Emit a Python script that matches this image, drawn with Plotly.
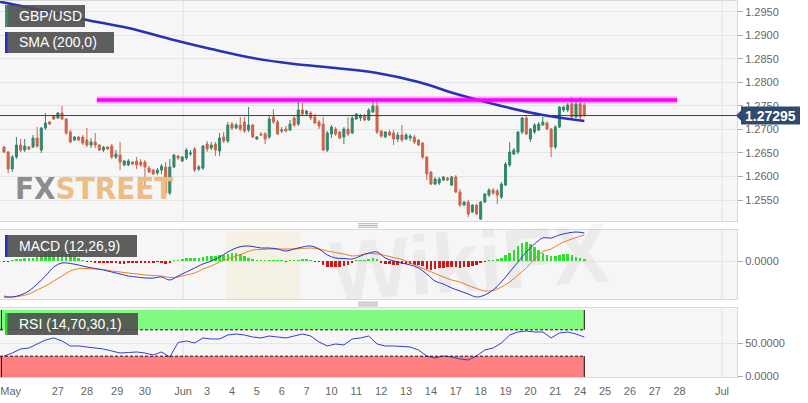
import plotly.graph_objects as go

# ---------------- DATA ----------------
open_ = [1.26626,1.26520,1.26159,1.26414,1.26669,1.26562,1.26626,1.26626,1.26817,1.26562,
1.27030,1.27158,1.27285,1.27243,1.27349,1.27221,1.26945,1.26775,1.26839,1.26839,
1.26775,1.26669,1.26732,1.26669,1.26562,1.26626,1.26647,1.26414,1.26456,1.26244,
1.26244,1.26307,1.26329,1.26307,1.26307,1.26180,1.26137,1.26074,1.26137,1.26201,
1.25649,1.26201,1.26435,1.26329,1.26392,1.26477,1.26584,1.26159,1.26180,1.26690,
1.26605,1.26690,1.26541,1.26839,1.26754,1.27115,1.27030,1.27094,1.27158,1.26987,
1.27094,1.26796,1.26902,1.26902,1.26839,1.27264,1.27158,1.26966,1.27009,1.26987,
1.27243,1.27115,1.27413,1.27328,1.27349,1.27264,1.27158,1.27115,1.26562,1.26902,
1.27009,1.26945,1.26839,1.27009,1.26924,1.27221,1.27243,1.27285,1.27200,1.27370,
1.27498,1.26966,1.26839,1.26945,1.26924,1.26796,1.26881,1.26796,1.26817,1.26839,
1.26775,1.26711,1.26414,1.26095,1.25840,1.25861,1.25925,1.25967,1.25819,1.25989,
1.25670,1.25394,1.25458,1.25245,1.25394,1.25096,1.25458,1.25606,1.25713,1.25691,
1.25564,1.25819,1.26244,1.26477,1.26520,1.26945,1.27243,1.26796,1.26945,1.26987,
1.27094,1.27136,1.27009,1.26626,1.27051,1.27413,1.27413,1.27540,1.27264,1.27540,
1.27519]

high = [1.26647,1.26541,1.26456,1.26839,1.26796,1.26796,1.26647,1.26881,1.27051,1.27051,
1.27349,1.27179,1.27306,1.27370,1.27498,1.27243,1.26987,1.26860,1.26860,1.26881,
1.27030,1.26817,1.26924,1.26690,1.26647,1.26647,1.26690,1.26562,1.26732,1.26350,
1.26371,1.26329,1.26414,1.26371,1.26350,1.26222,1.26159,1.26180,1.26265,1.26307,
1.26371,1.26477,1.26456,1.26435,1.26605,1.26562,1.26626,1.26244,1.26669,1.26754,
1.26732,1.26732,1.26924,1.26945,1.27158,1.27158,1.27136,1.27264,1.27264,1.27476,
1.27115,1.26860,1.26945,1.26945,1.27285,1.27434,1.27200,1.27051,1.27073,1.27200,
1.27285,1.27583,1.27561,1.27413,1.27391,1.27328,1.27200,1.27264,1.26966,1.27094,
1.27051,1.26966,1.27051,1.27264,1.27306,1.27349,1.27328,1.27328,1.27455,1.27604,
1.27604,1.26987,1.26966,1.26987,1.26987,1.26945,1.27094,1.26924,1.26902,1.26881,
1.26796,1.26732,1.26435,1.26116,1.25989,1.25989,1.26010,1.25989,1.26010,1.26031,
1.25734,1.25479,1.25500,1.25415,1.25415,1.25479,1.25649,1.25755,1.25755,1.25734,
1.25882,1.26307,1.26732,1.26605,1.26966,1.27264,1.27285,1.27030,1.27136,1.27158,
1.27264,1.27179,1.27030,1.27094,1.27498,1.27498,1.27561,1.27689,1.27604,1.27689,
1.27561]

low = [1.26499,1.26074,1.26095,1.26371,1.26520,1.26520,1.26562,1.26605,1.26605,1.26499,
1.26987,1.27094,1.27200,1.27221,1.27200,1.26881,1.26711,1.26754,1.26754,1.26669,
1.26626,1.26605,1.26605,1.26541,1.26520,1.26562,1.26371,1.26371,1.26137,1.26222,
1.26222,1.26244,1.26159,1.26201,1.25819,1.26074,1.26031,1.26031,1.26052,1.25628,
1.25606,1.26180,1.26350,1.26307,1.26350,1.26435,1.26095,1.26116,1.26137,1.26520,
1.26562,1.26435,1.26435,1.26711,1.26711,1.26987,1.27009,1.26966,1.26924,1.26945,
1.26817,1.26775,1.26860,1.26690,1.26796,1.27115,1.26881,1.26924,1.26945,1.26966,
1.27051,1.27073,1.27285,1.27306,1.27200,1.27115,1.27009,1.26541,1.26520,1.26817,
1.26860,1.26796,1.26690,1.26860,1.26902,1.27200,1.27179,1.27179,1.27179,1.27349,
1.26902,1.26817,1.26817,1.26860,1.26669,1.26732,1.26732,1.26775,1.26754,1.26690,
1.26647,1.26371,1.25925,1.25819,1.25819,1.25819,1.25904,1.25904,1.25797,1.25649,
1.25351,1.25373,1.25139,1.25224,1.25181,1.25075,1.25436,1.25564,1.25606,1.25415,
1.25521,1.25797,1.26201,1.26456,1.26477,1.26902,1.26881,1.26732,1.26902,1.26966,
1.27073,1.26987,1.26414,1.26584,1.27030,1.27370,1.27370,1.27243,1.27243,1.27221,
1.27264]

close = [1.26520,1.26159,1.26414,1.26669,1.26562,1.26647,1.26584,1.26817,1.26647,1.27030,
1.27136,1.27115,1.27221,1.27349,1.27221,1.26924,1.26732,1.26839,1.26775,1.26711,
1.26669,1.26732,1.26669,1.26562,1.26626,1.26584,1.26414,1.26477,1.26307,1.26329,
1.26329,1.26265,1.26244,1.26244,1.26201,1.26095,1.26052,1.26137,1.26222,1.25649,
1.26201,1.26456,1.26392,1.26414,1.26562,1.26499,1.26137,1.26201,1.26647,1.26584,
1.26669,1.26562,1.26817,1.26754,1.27094,1.27030,1.27094,1.27009,1.26966,1.27094,
1.26839,1.26839,1.26881,1.26796,1.27221,1.27158,1.26902,1.26987,1.26966,1.27115,
1.27094,1.27413,1.27328,1.27391,1.27243,1.27136,1.27073,1.26562,1.26924,1.27051,
1.26902,1.26817,1.27009,1.26902,1.27243,1.27328,1.27285,1.27200,1.27413,1.27498,
1.26945,1.26860,1.26945,1.26881,1.26796,1.26881,1.26775,1.26881,1.26860,1.26732,
1.26669,1.26414,1.26052,1.25840,1.25946,1.25946,1.25989,1.25925,1.25989,1.25670,
1.25394,1.25458,1.25203,1.25394,1.25203,1.25458,1.25628,1.25713,1.25649,1.25606,
1.25840,1.26265,1.26520,1.26562,1.26945,1.27243,1.26902,1.27009,1.27094,1.27115,
1.27158,1.27009,1.26626,1.27051,1.27476,1.27476,1.27519,1.27264,1.27540,1.27264,
1.27295]

# 200-period SMA, sampled every 10 candles (first value: the candle just off the left edge)
sma_idx = [-1, 0, 10, 20, 30, 40, 50, 60, 70, 80, 90, 100, 110, 120, 130, 140]
sma = [1.29717, 1.29696, 1.29515, 1.29324, 1.29154, 1.28921, 1.28708, 1.28517, 1.28390,
       1.28305, 1.28199, 1.28007, 1.27731, 1.27498, 1.27306, 1.27179]

# horizontal resistance drawn on the chart
resistance = 1.27625
resistance_from = 22.4
resistance_to = 162.4

# MACD (12,26,9) histogram, one per candle
macd_hist = [-0.00005,-0.00005,0.00005,0.0001,0.0001,0.00015,0.00015,0.00015,0.0002,0.0003,
0.0004,0.00045,0.0005,0.00055,0.0005,0.00045,0.00035,0.00025,0.00015,0.00005,
-0.00005,-0.00005,-0.0001,-0.0001,-0.0001,-0.0001,-0.0001,-0.0001,-0.00015,-0.00015,
-0.0001,-0.0001,-0.0001,-0.0001,-0.0001,-0.0001,-0.0001,-0.00005,-0.0001,-0.00015,
-0.0001,0.00002,0.00005,0.0001,0.00015,0.00015,0.00015,0.00015,0.0002,0.00025,
0.00025,0.00025,0.0003,0.0003,0.00035,0.0004,0.0004,0.00035,0.00025,0.00015,
0.0001,0.00005,0.00005,0.00002,0.00005,0.00005,0.00002,0.00002,-0.00002,0.00005,
0.00005,0.00005,0.0001,0.0001,0.00005,-0.00002,-0.00005,-0.0002,-0.0003,-0.0003,
-0.0003,-0.0003,-0.00025,-0.0002,-0.0001,0.00002,0.00005,0.00005,0.0001,0.00015,
0.0001,-0.0001,-0.00015,-0.00015,-0.0002,-0.0002,-0.00015,-0.00015,-0.00015,-0.0002,
-0.0002,-0.00025,-0.0004,-0.00045,-0.0004,-0.00035,-0.00035,-0.0003,-0.0003,-0.0003,
-0.00035,-0.0003,-0.0003,-0.00025,-0.0002,-0.0001,-0.00005,0.00005,0.00005,0.0001,
0.00015,0.0003,0.0004,0.00055,0.00075,0.0009,0.00095,0.00085,0.0007,0.00055,
0.0004,0.0003,0.00025,0.00025,0.0003,0.00035,0.00035,0.0003,0.0002,0.00015,
0.0001]

# MACD line, signal and RSI sampled every 2 candles
ind_idx = list(range(0, 141, 2))
macd_line = [-0.0018,-0.0018,-0.0017,-0.0015,-0.00115,-0.00075,-0.0003,-0.0001,-0.000125,-0.0002,
-0.0003,-0.000375,-0.00045,-0.00055,-0.00065,-0.00075,-0.0008,-0.00085,-0.00085,-0.0008,
-0.00095,-0.00075,-0.00055,-0.00035,-0.00015,0.0,0.0002,0.00045,0.00065,0.00075,
0.000725,0.00065,0.00065,0.0006,0.0005,0.0006,0.0007,0.00075,0.0006,0.0003,
0.00015,0.000125,0.0001,0.00025,0.0004,0.00045,0.00015,0.0,-0.0001,-0.0002,
-0.00035,-0.00065,-0.001,-0.00115,-0.00135,-0.0015,-0.00165,-0.0018,-0.0017,-0.00145,
-0.00105,-0.00055,-0.00005,0.00045,0.00085,0.00115,0.00115,0.0013,0.0014,0.00145,
0.0014]
macd_signal = [-0.00175,-0.0018,-0.00175,-0.00165,-0.00145,-0.00125,-0.001,-0.00075,-0.0005,-0.000375,
-0.000375,-0.0004,-0.000425,-0.0005,-0.00055,-0.0006,-0.00065,-0.0007,-0.000725,-0.00075,
-0.000825,-0.0008,-0.0007,-0.0006,-0.0004,-0.00025,-0.00005,0.0001,0.00025,0.0004,
0.00055,0.000575,0.0006,0.0006,0.0006,0.0006,0.000625,0.00065,0.0006,0.0005,
0.000425,0.00035,0.00025,0.0003,0.000375,0.00035,0.000275,0.000175,0.000075,-0.0001,
-0.000275,-0.00045,-0.000625,-0.0008,-0.00095,-0.00105,-0.001225,-0.001375,-0.0015,-0.001475,
-0.0013,-0.00105,-0.0007,-0.00035,0.0001,0.000475,0.0006,0.00085,0.001025,0.001175,
0.0013]
rsi = [30.3,34.8,40.9,42.4,48.5,54.5,57.6,53.0,45.5,45.5,
43.9,42.4,40.9,37.9,34.8,35.6,36.4,34.8,31.8,36.4,
28.8,50.8,53.0,50.0,57.6,56.1,56.1,62.1,63.6,62.1,
59.1,57.6,60.6,59.1,57.6,60.6,63.6,60.6,51.5,45.5,
48.5,47.0,56.1,57.6,60.6,48.5,45.5,45.5,44.7,43.9,
39.4,30.3,27.3,30.3,28.8,25.8,24.2,30.3,39.4,42.4,
50.0,62.1,66.7,68.2,66.7,66.7,57.6,65.2,66.7,63.6,
59.1]
rsi_upper, rsi_lower = 70, 30

# x-axis tick labels and the candle index at which each sits
tick_labels = ['May','27','28','29','30','Jun','3','4','5','6','7','10','11','12','13',
               '14','17','18','19','20','21','24','25','26','27','28','Jul']
tick_index = [1.6,13,20,27.3,34,43.2,49,55,61,67,73,79,85,91,97,
              103,109,115,121,127,133,139,145,151,157,163,173.2]
price_ticks = [1.2550,1.2600,1.2650,1.2700,1.2750,1.2800,1.2850,1.2900,1.2950]

# ---------------- FIGURE ----------------
W, H = 808, 403
def px(x): return x / W
def py(y): return 1 - y / H

UP, DOWN = '#34876a', '#cc644c'
FONT = 'Liberation Sans, Arial, sans-serif'
idx = list(range(len(close)))
X_RANGE = [-0.965, 176.84]

fig = go.Figure()
fig.add_trace(go.Candlestick(
    x=idx, open=open_, high=high, low=low, close=close,
    increasing=dict(line=dict(color=UP, width=1), fillcolor=UP),
    decreasing=dict(line=dict(color=DOWN, width=1), fillcolor=DOWN),
    whiskerwidth=0, xaxis='x', yaxis='y', showlegend=False, hoverinfo='skip'))
fig.add_trace(go.Scatter(x=sma_idx, y=sma, mode='lines', xaxis='x', yaxis='y',
    line=dict(color='#2434b4', width=2.6, shape='spline'), showlegend=False, hoverinfo='skip'))

fig.add_trace(go.Bar(x=idx, y=macd_hist, xaxis='x2', yaxis='y2', width=0.62,
    marker=dict(color=['#2ee02e' if v >= 0 else '#d01515' for v in macd_hist], line=dict(width=0)),
    showlegend=False, hoverinfo='skip'))
fig.add_trace(go.Scatter(x=ind_idx, y=macd_signal, mode='lines', xaxis='x2', yaxis='y2',
    line=dict(color='#f07d22', width=1, shape='spline'), showlegend=False, hoverinfo='skip'))
fig.add_trace(go.Scatter(x=ind_idx, y=macd_line, mode='lines', xaxis='x2', yaxis='y2',
    line=dict(color='#2a35c8', width=1, shape='spline'), showlegend=False, hoverinfo='skip'))

fig.add_trace(go.Scatter(x=ind_idx, y=rsi, mode='lines', xaxis='x3', yaxis='y3',
    line=dict(color='#3340c8', width=1), showlegend=False, hoverinfo='skip'))

AX = dict(showline=True, mirror=True, linecolor='#d8d8d8', linewidth=1, zeroline=False, automargin=False)
xcommon = dict(AX, range=X_RANGE, domain=[0, px(737)], showgrid=False, fixedrange=True)
ycommon = dict(AX, side='right', ticks='outside', ticklen=5, tickcolor='#a8a8a8',
               tickfont=dict(size=11, color='#666666', family=FONT),
               showgrid=True, gridcolor='#e5e5e5', gridwidth=1, fixedrange=True)

shapes = []
# month separators
for lab in ('Jun', 'Jul'):
    xv = tick_index[tick_labels.index(lab)]
    for xr, yr in (('x', 'y domain'), ('x2', 'y2 domain'), ('x3', 'y3 domain')):
        shapes.append(dict(type='line', xref=xr, yref=yr, x0=xv, x1=xv, y0=0, y1=1,
                           line=dict(color='#e2e2e2', width=1), layer='below'))
last = idx[-1]
# RSI zones
shapes += [
    dict(type='rect', xref='x3', yref='y3', x0=X_RANGE[0] - 5, x1=last, y0=rsi_upper, y1=100,
         fillcolor='#80fb80', line=dict(width=0), layer='below'),
    dict(type='rect', xref='x3', yref='y3', x0=X_RANGE[0] - 5, x1=last, y0=-5, y1=rsi_lower,
         fillcolor='#ff8080', line=dict(width=0), layer='below'),
    dict(type='line', xref='x3', yref='y3', x0=X_RANGE[0], x1=last, y0=rsi_upper, y1=rsi_upper,
         line=dict(color='#111111', width=1, dash='3px,2px')),
    dict(type='line', xref='x3', yref='y3', x0=X_RANGE[0], x1=last, y0=rsi_lower, y1=rsi_lower,
         line=dict(color='#111111', width=1, dash='3px,2px')),
    dict(type='line', xref='x3', yref='y3', x0=last, x1=last, y0=rsi_upper, y1=100,
         line=dict(color='#111111', width=1)),
    dict(type='line', xref='x3', yref='y3', x0=last, x1=last, y0=-2, y1=rsi_lower,
         line=dict(color='#111111', width=1)),
    dict(type='line', xref='x3 domain', yref='y3', x0=0.002, x1=0.002, y0=rsi_upper, y1=100,
         line=dict(color='#111111', width=1)),
    dict(type='line', xref='x3 domain', yref='y3', x0=0.002, x1=0.002, y0=-2, y1=rsi_lower,
         line=dict(color='#111111', width=1)),
]
# resistance & last price line
shapes += [
    dict(type='line', xref='x', yref='y', x0=resistance_from, x1=resistance_to,
         y0=resistance, y1=resistance, line=dict(color='rgba(255,0,255,0.35)', width=7)),
    dict(type='line', xref='x', yref='y', x0=resistance_from, x1=resistance_to,
         y0=resistance, y1=resistance, line=dict(color='#ff00ff', width=3.5)),
    dict(type='line', xref='x domain', yref='y', x0=0, x1=1, y0=close[-1], y1=close[-1],
         line=dict(color='#33405a', width=1)),
]
# last price tag
tag_h = 0.00192
shapes += [
    dict(type='rect', xref='paper', yref='y', x0=px(741), x1=px(800),
         y0=close[-1] - tag_h, y1=close[-1] + tag_h, fillcolor='#2f4a6c', line=dict(width=0)),
    dict(type='path', xref='paper', yref='y',
         path=f'M {px(736)},{close[-1]} L {px(741.5)},{close[-1] + 0.0012} L {px(741.5)},{close[-1] - 0.0012} Z',
         fillcolor='#2f4a6c', line=dict(width=0)),
]
# watermark logo block
shapes.append(dict(type='rect', xref='paper', yref='paper', x0=px(226), x1=px(300), y0=py(302), y1=py(232),
                   fillcolor='rgba(245,200,80,0.10)', line=dict(width=0), layer='below'))
# legend tags
def tag(x0, x1, y0, y1, strip):
    return [dict(type='rect', xref='paper', yref='paper', x0=px(x0), x1=px(x1), y0=py(y1), y1=py(y0),
                 fillcolor='rgba(78,78,78,0.9)', line=dict(width=0)),
            dict(type='rect', xref='paper', yref='paper', x0=px(x0), x1=px(x0 + 2.5), y0=py(y1), y1=py(y0),
                 fillcolor=strip, line=dict(width=0))]
shapes += tag(5, 85, 5, 27, '#3b8f70')
shapes += tag(5, 114, 32, 53, '#1f30c8')
shapes += tag(5, 137, 235, 257, '#1f30c8')
shapes += tag(5, 138, 313, 335, '#22dd22')
# panel drag handles
for yc in (225.5, 304):
    for d in (-1.8, 0, 1.8):
        shapes.append(dict(type='line', xref='paper', yref='paper', x0=px(358), x1=px(378),
                           y0=py(yc + d), y1=py(yc + d), line=dict(color='#a0a0a0', width=0.8)))

annotations = []
for text, yc in (('GBP/USD', 16), ('SMA (200,0)', 42.5), ('MACD (12,26,9)', 246), ('RSI (14,70,30,1)', 324)):
    annotations.append(dict(xref='paper', yref='paper', x=px(17), y=py(yc), xanchor='left', yanchor='middle',
                            text=text, showarrow=False, font=dict(size=14, color='white', family=FONT)))
annotations.append(dict(xref='paper', yref='y', x=px(770.5), y=close[-1], xanchor='center', yanchor='middle',
                        text=f'<b>{close[-1]:.5f}</b>', showarrow=False,
                        font=dict(size=14, color='white', family=FONT)))
annotations.append(dict(xref='paper', yref='paper', x=px(13), y=py(188), xanchor='left', yanchor='middle',
                        text="<b><span style='color:#8d8d8d'>FX</span><span style='color:#ecbd85'>STREET</span></b>",
                        showarrow=False, font=dict(size=31, family='Liberation Sans Narrow, DejaVu Sans Condensed, sans-serif')))
annotations.append(dict(xref='paper', yref='paper', x=px(470), y=py(262), xanchor='center', yanchor='middle',
                        text='<b>WikiFX</b>', showarrow=False, textangle=-4,
                        font=dict(size=84, color='rgba(120,120,120,0.08)', family=FONT)))

fig.update_layout(
    width=W, height=H, margin=dict(l=0, r=0, t=0, b=0, autoexpand=False),
    paper_bgcolor='white', plot_bgcolor='#f6f6f7',
    font=dict(family=FONT, size=11, color='#666666'),
    showlegend=False, hovermode=False, bargap=0,
    xaxis=dict(xcommon, anchor='y', showticklabels=False, rangeslider=dict(visible=False)),
    xaxis2=dict(xcommon, anchor='y2', matches='x', showticklabels=False),
    xaxis3=dict(xcommon, anchor='y3', matches='x', tickvals=tick_index, ticktext=tick_labels,
                ticks='outside', ticklen=4, tickcolor='rgba(0,0,0,0)', ticklabeloverflow='allow',
                tickfont=dict(size=11, color='#666666', family=FONT)),
    yaxis=dict(ycommon, anchor='x', domain=[py(221), py(1)], range=[1.25055, 1.29728],
               tickvals=price_ticks, tickformat='.4f'),
    yaxis2=dict(ycommon, anchor='x2', domain=[py(299), py(230)], range=[-0.0019, 0.00155],
                tickvals=[0], ticktext=['0.0000']),
    yaxis3=dict(ycommon, anchor='x3', domain=[py(377), py(308)], range=[-1.52, 103.03],
                tickvals=[0, 50], tickformat='.4f'),
    shapes=shapes, annotations=annotations,
)

fig.write_html('out.html', config={'displayModeBar': False},
               post_script="document.body.style.margin='0';document.body.style.overflow='hidden';")
